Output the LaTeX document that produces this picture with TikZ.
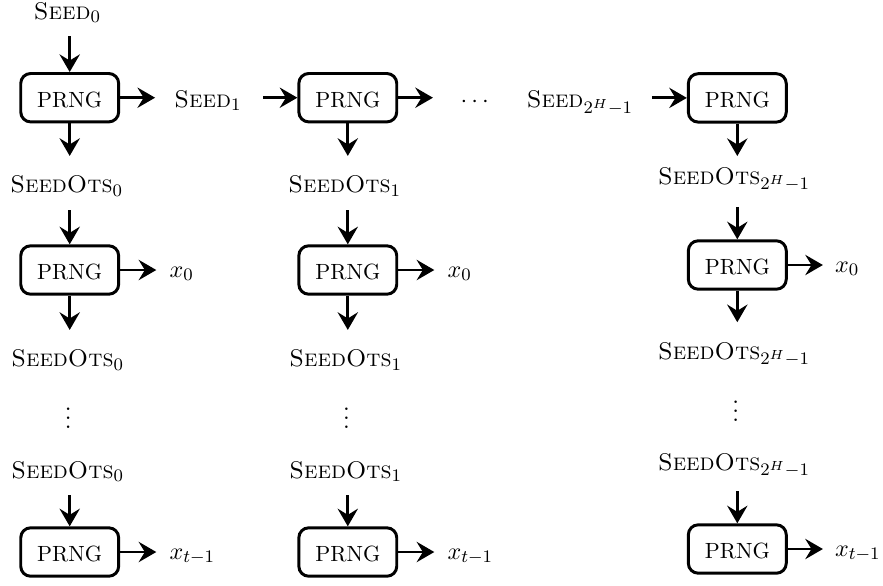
\documentclass[tikz,border=0pt]{standalone}
\usetikzlibrary{arrows.meta}
\newcommand{\Seed}{\textsc{Seed}}
\newcommand{\SeedOts}{\textsc{SeedOts}}
\begin{document}
\begin{tikzpicture}[x=0.4545pt, y=-0.4545pt,
  prng/.style={draw, line width=1.35pt, rounded corners=4.5pt,
    minimum width=44.5pt, minimum height=22pt, inner sep=0pt,
    text height=8.6pt, text depth=0pt},
  lab/.style={inner sep=0pt, outer sep=0pt, anchor=base,
    font=\fontsize{10.95}{13.6}\selectfont},
  xlab/.style={inner sep=0pt, outer sep=0pt, anchor=base west,
    font=\fontsize{10.95}{13.6}\selectfont},
  arr/.style={-{Stealth[length=8pt,width=9.2pt,inset=2.8pt]}, line width=1.3pt},
  fromlab/.style={shorten <=6.3pt},
  tolab/.style={shorten >=#1},
  tolab/.default=9pt]
\useasboundingbox (0,0) rectangle (883,585);

% top row: seed chain
\node[lab] (seed0) at (67.5,19) {\Seed$_0$};
\node[prng] (p1) at (69.7,97.7) {PRNG};
\node[lab] (seed1) at (208,107.3) {\Seed$_1$};
\node[prng] (p2) at (347.8,97.7) {PRNG};
\node[lab] (hdots) at (474.7,107.3) {$\cdots$};
\node[lab] (seedH) at (580,107.3) {\Seed$_{2^H-1}$};
\node[prng] (p3) at (737.3,97.9) {PRNG};

% column 1
\node[lab] (so10) at (66.7,192.7) {\SeedOts$_0$};
\node[prng] (q1) at (69.7,270) {PRNG};
\node[xlab] (x01) at (169.5,277) {$x_0$};
\node[lab] (so11) at (67.7,366.7) {\SeedOts$_0$};
\node[lab] (vd1) at (68.3,428) {$\vdots$};
\node[lab] (so12) at (67.7,478) {\SeedOts$_0$};
\node[prng] (r1) at (69.7,552) {PRNG};
\node[xlab] (xt1) at (169.5,559) {$x_{t-1}$};

% column 2
\node[lab] (so20) at (344.8,192.7) {\SeedOts$_1$};
\node[prng] (q2) at (347.8,270) {PRNG};
\node[xlab] (x02) at (447.5,277) {$x_0$};
\node[lab] (so21) at (345.8,366.7) {\SeedOts$_1$};
\node[lab] (vd2) at (346.4,428) {$\vdots$};
\node[lab] (so22) at (345.8,478) {\SeedOts$_1$};
\node[prng] (r2) at (347.8,552) {PRNG};
\node[xlab] (xt2) at (447.5,559) {$x_{t-1}$};

% column 3
\node[lab] (so30) at (734,184) {\SeedOts$_{2^H-1}$};
\node[prng] (q3) at (737.3,265) {PRNG};
\node[xlab] (x03) at (835,272) {$x_0$};
\node[lab] (so31) at (734,359) {\SeedOts$_{2^H-1}$};
\node[lab] (vd3) at (735.7,421.5) {$\vdots$};
\node[lab] (so32) at (734,470) {\SeedOts$_{2^H-1}$};
\node[prng] (r3) at (737.3,549) {PRNG};
\node[xlab] (xt3) at (835,556) {$x_{t-1}$};

% seed chain arrows
\draw[arr, fromlab] (seed0.south -| p1.north) -- (p1.north);
\draw[arr, tolab=8.8pt] (p1.east) -- (seed1.west |- p1.east);
\draw[arr, shorten <=9.9pt] (seed1.east |- p2.west) -- (p2.west);
\draw[arr, tolab=12.6pt] (p2.east) -- (hdots.west |- p2.east);
\draw[arr, shorten <=8.5pt] (seedH.east |- p3.west) -- (p3.west);

% vertical arrows, columns 1 and 2
\foreach \p/\a/\q/\b/\r/\x/\y in {p1/so10/q1/so11/r1/x01/xt1, p2/so20/q2/so21/r2/x02/xt2}{
  \draw[arr, tolab] (\p.south) -- (\p.south |- \a.north);
  \draw[arr, fromlab] (\a.south -| \q.north) -- (\q.north);
  \draw[arr, tolab] (\q.south) -- (\q.south |- \b.north);
  \draw[arr, tolab=6pt] (\q.east) -- (\x.west |- \q.east);
  \draw[arr, tolab=6pt] (\r.east) -- (\y.west |- \r.east);
}
\draw[arr, fromlab] (so12.south -| r1.north) -- (r1.north);
\draw[arr, fromlab] (so22.south -| r2.north) -- (r2.north);

% vertical arrows, column 3
\draw[arr, tolab=5pt] (p3.south) -- (p3.south |- so30.north);
\draw[arr, shorten <=7pt] (so30.south -| q3.north) -- (q3.north);
\draw[arr, tolab] (q3.south) -- (q3.south |- so31.north);
\draw[arr, tolab=5.5pt] (q3.east) -- (x03.west |- q3.east);
\draw[arr, fromlab] (so32.south -| r3.north) -- (r3.north);
\draw[arr, tolab=5.5pt] (r3.east) -- (xt3.west |- r3.east);
\end{tikzpicture}
\end{document}
